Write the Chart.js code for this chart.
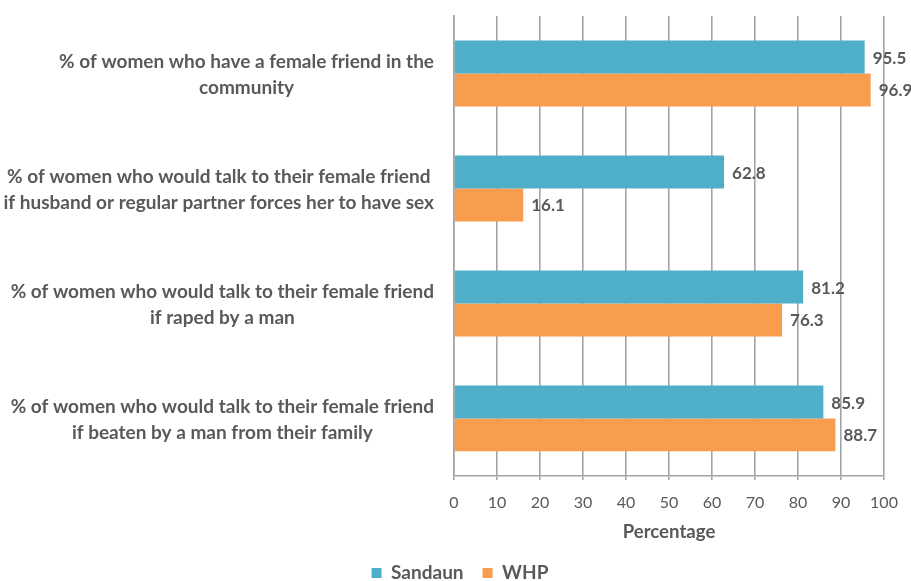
<!DOCTYPE html>
<html>
<head>
<meta charset="utf-8">
<script src="https://cdn.jsdelivr.net/npm/chart.js@4"></script>
<style>
  html, body { margin: 0; padding: 0; background: #fff; }
  #wrap { width: 911px; height: 581px; }
</style>
</head>
<body>
<div id="wrap"><canvas id="chart"></canvas></div>
<script>
const categories = [
  ['% of women who have a female friend in the', 'community'],
  ['% of women who would talk to their female friend', 'if husband or regular partner forces her to have sex'],
  ['% of women who would talk to their female friend', 'if raped by a man'],
  ['% of women who would talk to their female friend', 'if beaten by a man from their family']
];
const sandaun = [95.5, 62.8, 81.2, 85.9];
const whp = [96.9, 16.1, 76.3, 88.7];
const xTicks = [0, 10, 20, 30, 40, 50, 60, 70, 80, 90, 100];

const TEXT = '#595959';
const FONT = 'Lato, "Open Sans", sans-serif';

// category labels: block right-aligned to the axis, lines centred inside the block
const categoryLabels = {
  id: 'categoryLabels',
  afterDraw(chart) {
    const { ctx } = chart;
    const y = chart.scales.y;
    const right = chart.chartArea.left - 20;
    ctx.save();
    ctx.font = 'bold 19px ' + FONT;
    ctx.fillStyle = TEXT;
    ctx.textAlign = 'center';
    ctx.textBaseline = 'middle';
    categories.forEach((lines, i) => {
      const cy = y.getPixelForTick(i) + 1.5;
      const w = Math.max(...lines.map(l => ctx.measureText(l).width));
      const cx = right - w / 2;
      const lh = 25.5;
      const top = cy - (lines.length - 1) * lh / 2;
      lines.forEach((l, j) => ctx.fillText(l, cx, top + j * lh));
    });
    ctx.restore();
  }
};

// value printed just past the end of each bar
const valueLabels = {
  id: 'valueLabels',
  afterDatasetsDraw(chart) {
    const { ctx } = chart;
    ctx.save();
    ctx.font = 'bold 17px ' + FONT;
    ctx.fillStyle = TEXT;
    ctx.textAlign = 'left';
    ctx.textBaseline = 'middle';
    chart.data.datasets.forEach((ds, di) => {
      chart.getDatasetMeta(di).data.forEach((bar, i) => {
        ctx.fillText(ds.data[i].toFixed(1), bar.x + 8, bar.y + 1);
      });
    });
    ctx.restore();
  }
};

new Chart(document.getElementById('chart'), {
  type: 'bar',
  data: {
    labels: categories,
    datasets: [
      { label: 'Sandaun', data: sandaun, backgroundColor: '#4fafc9' },
      { label: 'WHP', data: whp, backgroundColor: '#f89c4e' }
    ]
  },
  options: {
    indexAxis: 'y',
    responsive: true,
    maintainAspectRatio: false,
    animation: false,
    layout: { padding: { top: 16, right: 27, left: 36, bottom: -11.5 } },
    datasets: { bar: { barPercentage: 1, categoryPercentage: 0.572 } },
    plugins: {
      legend: {
        position: 'bottom',
        labels: {
          boxWidth: 10, boxHeight: 10, padding: 19,
          color: TEXT,
          font: { family: FONT, size: 19, weight: 'bold' }
        }
      },
      tooltip: { enabled: false }
    },
    scales: {
      x: {
        min: 0, max: 100,
        afterBuildTicks(scale) { scale.ticks = xTicks.map(v => ({ value: v })); },
        grid: { color: '#a4a4a4', lineWidth: 1.6, tickLength: 4 },
        border: { color: '#a4a4a4', width: 1.6 },
        ticks: { color: TEXT, padding: 13, font: { family: FONT, size: 16 } },
        title: {
          display: true, text: 'Percentage', color: TEXT,
          font: { family: FONT, size: 18.6, weight: 'bold' },
          padding: { top: -4, bottom: 1 }
        }
      },
      y: {
        grid: { display: false },
        border: { color: '#a4a4a4', width: 1.6 },
        ticks: { display: false },
        afterFit(scale) { scale.width = 418; }
      }
    }
  },
  plugins: [categoryLabels, valueLabels]
});
</script>
</body>
</html>
